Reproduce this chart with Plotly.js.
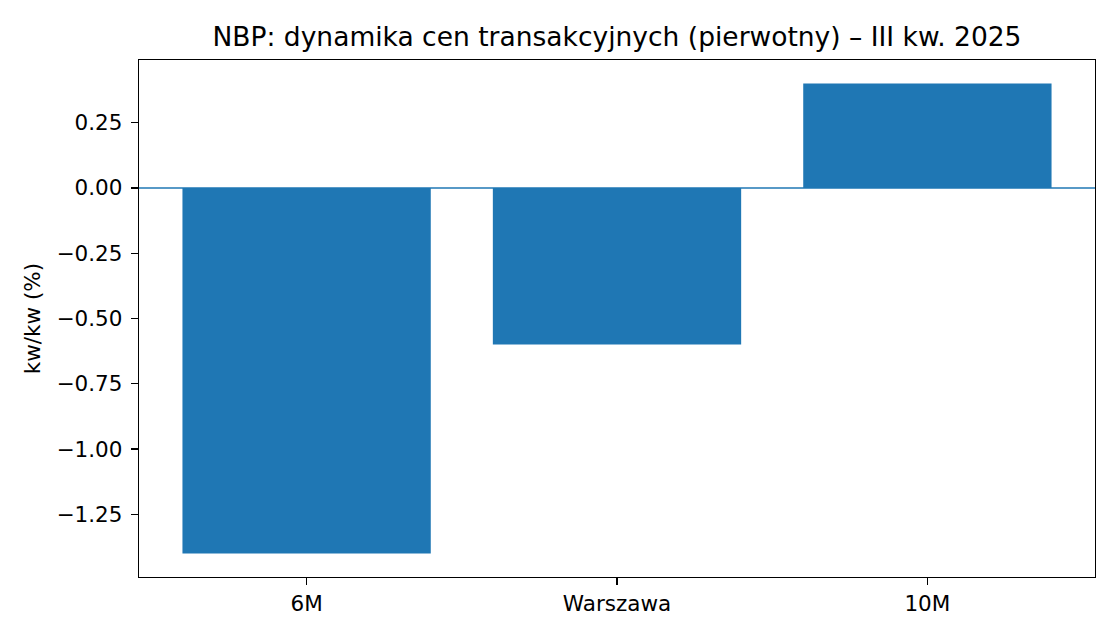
<!DOCTYPE html>
<html>
<head>
<meta charset="utf-8">
<script src="https://cdn.plot.ly/plotly-3.0.1.min.js"></script>
<style>html,body{margin:0;padding:0;background:#fff;}#chart{width:1120px;height:640px;}</style>
</head>
<body>
<div id="chart"></div>
<script>
const categories = ["6M", "Warszawa", "10M"];
const values = [-1.40, -0.60, 0.40];
const yTicks = [-1.25, -1.00, -0.75, -0.50, -0.25, 0.00, 0.25];
const titleText = "NBP: dynamika cen transakcyjnych (pierwotny) – III kw. 2025";
const yLabel = "kw/kw (%)";

const font = "DejaVu Sans, sans-serif";
const trace = {
  type: "bar",
  x: [0, 1, 2],
  y: values,
  width: 0.8,
  marker: {color: "#1f77b4", line: {width: 0}},
  hoverinfo: "skip"
};
const layout = {
  width: 1120, height: 640,
  paper_bgcolor: "#fff", plot_bgcolor: "#fff",
  margin: {l: 139, r: 25, t: 60, b: 63, pad: 0},
  showlegend: false,
  font: {family: font, color: "#000"},
  title: {text: titleText, font: {family: font, size: 26.5, color: "#000"},
          x: 0.5, xref: "paper", y: 1 - 37/640, yref: "container", yanchor: "middle", xanchor: "center"},
  xaxis: {
    range: [-0.54, 2.54], tickmode: "array", tickvals: [0, 1, 2], ticktext: categories,
    showline: true, linecolor: "#000", linewidth: 1.3, mirror: true,
    ticks: "outside", ticklen: 7, tickwidth: 1.3, tickcolor: "#000",
    showgrid: false, zeroline: false, tickfont: {family: font, size: 21.5, color: "#000"},
    fixedrange: true
  },
  yaxis: {
    range: [-1.49, 0.49], tickmode: "array", tickvals: yTicks, tickformat: ".2f",
    showline: true, linecolor: "#000", linewidth: 1.3, mirror: true,
    ticks: "outside", ticklen: 7, tickwidth: 1.3, tickcolor: "#000", ticklabelstandoff: 4,
    showgrid: false, zeroline: false, tickfont: {family: font, size: 21.5, color: "#000"},
    title: {text: yLabel, font: {family: font, size: 21.5, color: "#000"}, standoff: 10},
    automargin: false, fixedrange: true
  },
  shapes: [{type: "line", xref: "paper", x0: 0, x1: 1, yref: "y", y0: 0, y1: 0,
            line: {color: "#1f77b4", width: 1.5}, layer: "above"}]
};
Plotly.newPlot("chart", [trace], layout, {displayModeBar: false, staticPlot: true});
</script>
</body>
</html>
